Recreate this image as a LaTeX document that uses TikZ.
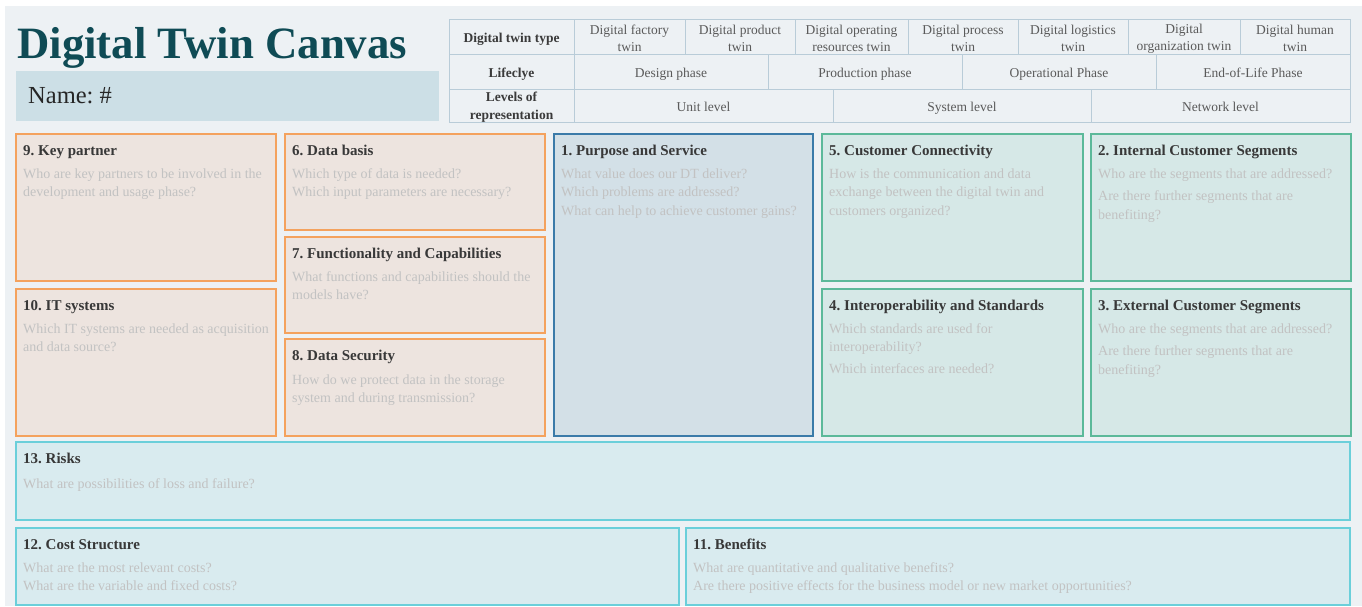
\documentclass[tikz,border=0pt]{standalone}
\usepackage{fontspec}
\setmainfont{Liberation Serif}
\frenchspacing
\definecolor{bgc}{HTML}{EDF1F4}
\definecolor{titlec}{HTML}{0F4B55}
\definecolor{namec}{HTML}{CCDFE6}
\definecolor{tline}{HTML}{B9CCD8}
\definecolor{cellt}{HTML}{5A5A5A}
\definecolor{hdrt}{HTML}{3A3A3A}
\definecolor{orb}{HTML}{F4A25E}
\definecolor{orf}{HTML}{EDE4DF}
\definecolor{blb}{HTML}{3B7BA9}
\definecolor{blf}{HTML}{D3E0E7}
\definecolor{grb}{HTML}{5CB99A}
\definecolor{grf}{HTML}{D6E8E7}
\definecolor{cyb}{HTML}{6BCFDA}
\definecolor{cyf}{HTML}{D9EBEF}
\definecolor{bodyc}{HTML}{C2C2C2}
\definecolor{ttlc}{HTML}{383838}
\newcommand\cvbox[7]{%
  \draw[#2] (#3,#4) rectangle (#5,#6);
  \node[ttl] (#1) at (#3+7,#4+21.5) {#7};}
\newcommand\bl[4]{\node[bdy] (#1) at (#2,#3) {#4};}
\begin{document}
\begin{tikzpicture}[x=1pt,y=-1pt,
  orbox/.style={draw=orb,fill=orf,line width=1.6pt},
  blbox/.style={draw=blb,fill=blf,line width=1.5pt},
  grbox/.style={draw=grb,fill=grf,line width=1.5pt},
  cybox/.style={draw=cyb,fill=cyf,line width=1.5pt},
  ttl/.style={anchor=base west,inner sep=0,text=ttlc,font=\fontsize{15}{18}\selectfont\bfseries},
  bdy/.style={anchor=base west,inner sep=0,text=bodyc,font=\fontsize{14}{18}\selectfont},
  cell/.style={inner sep=0,text=cellt,align=center,font=\fontsize{13.5}{17}\selectfont},
  scell/.style={inner sep=0,text=cellt,anchor=base,font=\fontsize{13.5}{17}\selectfont},
  hcell/.style={inner sep=0,text=hdrt,align=center,font=\fontsize{13.5}{17.5}\selectfont\bfseries},
  shcell/.style={inner sep=0,text=hdrt,anchor=base,font=\fontsize{13.5}{17.5}\selectfont\bfseries},
  tl/.style={draw=tline,line width=1pt}]
\useasboundingbox (0,0) rectangle (1362,606);
\fill[white] (0,0) rectangle (1362,606);
\fill[bgc] (5,6) rectangle (1362,606);
% title
\node[anchor=base west,inner sep=0,text=titlec,font=\fontsize{44.8}{50}\selectfont\bfseries] (title) at (17,58) {Digital Twin Canvas};
\node[fill=namec,minimum width=423pt,minimum height=50pt,anchor=north west,inner sep=0] (namebox) at (16,71) {};
\node[anchor=base west,inner sep=0,font=\fontsize{24.5}{28}\selectfont,text=black!85] (name) at (28,103) {Name: \#};
% table
\draw[tl] (449,19) rectangle (1350,122);
\draw[tl] (449,54) -- (1350,54);
\draw[tl] (449,89) -- (1350,89);
\draw[tl] (574,19) -- (574,122);
\foreach \x in {685,795,908,1018,1128,1240} \draw[tl] (\x,19) -- (\x,54);
\foreach \x in {768,962,1156} \draw[tl] (\x,54) -- (\x,89);
\foreach \x in {833,1091} \draw[tl] (\x,89) -- (\x,122);
\node[shcell] (h1) at (511.5,42) {Digital twin type};
\node[shcell] (h2) at (511.5,77) {Lifeclye};
\node[hcell] (h3) at (511.5,107) {Levels of\\representation};
\node[cell] (t1) at (629.5,38.5) {Digital factory\\twin};
\node[cell] (t2) at (740,38.5) {Digital product\\twin};
\node[cell] (t3) at (851.5,38.5) {Digital operating\\resources twin};
\node[cell] (t4) at (963,38.5) {Digital process\\twin};
\node[cell] (t5) at (1073,38.5) {Digital logistics\\twin};
\node[cell] (t6) at (1184,38.5) {Digital\\organization twin};
\node[cell] (t7) at (1295,38.5) {Digital human\\twin};
\node[scell] (l1) at (671,77) {Design phase};
\node[scell] (l2) at (865,77) {Production phase};
\node[scell] (l3) at (1059,77) {Operational Phase};
\node[scell] (l4) at (1253,77) {End-of-Life Phase};
\node[scell] (v1) at (703.5,111) {Unit level};
\node[scell] (v2) at (962,111) {System level};
\node[scell] (v3) at (1220.5,111) {Network level};
% boxes
\cvbox{kp}{orbox}{16}{134}{276}{281}{9. Key partner}
\bl{kp1}{23}{178}{Who are key partners to be involved in the}
\bl{kp2}{23}{196.5}{development and usage phase?}
\cvbox{it}{orbox}{16}{289}{276}{436}{10. IT systems}
\bl{it1}{23}{333}{Which IT systems are needed as acquisition}
\bl{it2}{23}{351.5}{and data source?}
\cvbox{db}{orbox}{285}{134}{545}{230}{6. Data basis}
\bl{db1}{292}{178}{Which type of data is needed?}
\bl{db2}{292}{196.5}{Which input parameters are necessary?}
\cvbox{fc}{orbox}{285}{237}{545}{333}{7. Functionality and Capabilities}
\bl{fc1}{292}{281}{What functions and capabilities should the}
\bl{fc2}{292}{299.5}{models have?}
\cvbox{ds}{orbox}{285}{339}{545}{436}{8. Data Security}
\bl{ds1}{292}{384}{How do we protect data in the storage}
\bl{ds2}{292}{402.5}{system and during transmission?}
\cvbox{pu}{blbox}{554}{134}{813}{436}{1. Purpose and Service}
\bl{pu1}{561}{178}{What value does our DT deliver?}
\bl{pu2}{561}{196.5}{Which problems are addressed?}
\bl{pu3}{561}{215}{What can help to achieve customer gains?}
\cvbox{cc}{grbox}{822}{134}{1083}{281}{5. Customer Connectivity}
\bl{cc1}{829}{178}{How is the communication and data}
\bl{cc2}{829}{196.5}{exchange between the digital twin and}
\bl{cc3}{829}{215}{customers organized?}
\cvbox{io}{grbox}{822}{289}{1083}{436}{4. Interoperability and Standards}
\bl{io1}{829}{333}{Which standards are used for}
\bl{io2}{829}{351.5}{interoperability?}
\bl{io3}{829}{373}{Which interfaces are needed?}
\cvbox{ic}{grbox}{1091}{134}{1351}{281}{2. Internal Customer Segments}
\bl{ic1}{1098}{178}{Who are the segments that are addressed?}
\bl{ic2}{1098}{200.5}{Are there further segments that are}
\bl{ic3}{1098}{219}{benefiting?}
\cvbox{ec}{grbox}{1091}{289}{1351}{436}{3. External Customer Segments}
\bl{ec1}{1098}{333}{Who are the segments that are addressed?}
\bl{ec2}{1098}{355.5}{Are there further segments that are}
\bl{ec3}{1098}{374}{benefiting?}
\cvbox{ri}{cybox}{16}{442}{1350}{520}{13. Risks}
\bl{ri1}{23}{488}{What are possibilities of loss and failure?}
\cvbox{cs}{cybox}{16}{528}{679}{605}{12. Cost Structure}
\bl{cs1}{23}{572}{What are the most relevant costs?}
\bl{cs2}{23}{590.5}{What are the variable and fixed costs?}
\cvbox{be}{cybox}{686}{528}{1350}{605}{11. Benefits}
\bl{be1}{693}{572}{What are quantitative and qualitative benefits?}
\bl{be2}{693}{590.5}{Are there positive effects for the business model or new market opportunities?}
\end{tikzpicture}
\end{document}
